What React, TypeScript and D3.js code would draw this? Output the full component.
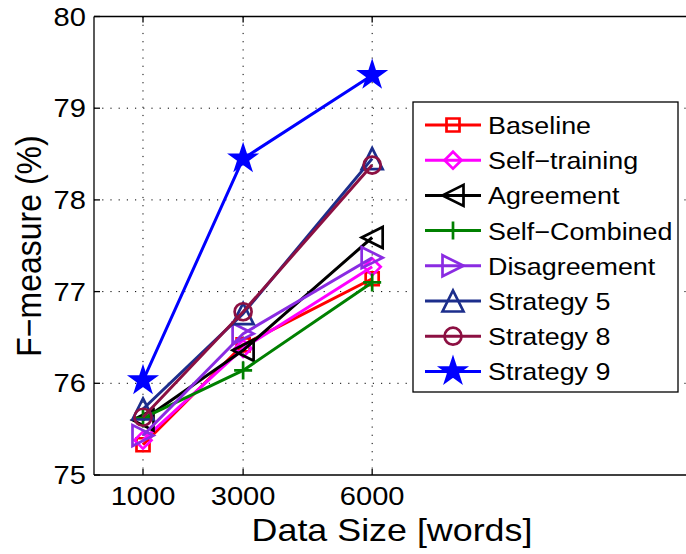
import React from "react";
import * as d3 from "d3";

// Data size in words (x categories)
const sizes = [1000, 3000, 6000];
const yTicks = [75, 76, 77, 78, 79, 80];

// F-measure (%) per method
const baseline = [75.33, 76.42, 77.14];
const selfTraining = [75.38, 76.38, 77.27];
const agreement = [75.6, 76.36, 77.59];
const selfCombined = [75.62, 76.14, 77.1];
const disagreement = [75.43, 76.54, 77.37];
const strategy5 = [75.72, 76.76, 78.45];
const strategy8 = [75.63, 76.78, 78.38];
const strategy9 = [76.03, 78.45, 79.36];

type Marker = "square" | "diamond" | "triLeft" | "plus" | "triRight" | "triUp" | "circle" | "star";

const series: { name: string; values: number[]; color: string; marker: Marker }[] = [
  { name: "Baseline", values: baseline, color: "#ff0000", marker: "square" },
  { name: "Self\u2212training", values: selfTraining, color: "#ff00ff", marker: "diamond" },
  { name: "Agreement", values: agreement, color: "#000000", marker: "triLeft" },
  { name: "Self\u2212Combined", values: selfCombined, color: "#008000", marker: "plus" },
  { name: "Disagreement", values: disagreement, color: "#8a2be2", marker: "triRight" },
  { name: "Strategy 5", values: strategy5, color: "#1c2e8c", marker: "triUp" },
  { name: "Strategy 8", values: strategy8, color: "#8c1042", marker: "circle" },
  { name: "Strategy 9", values: strategy9, color: "#0000ff", marker: "star" },
];

const W = 686;
const H = 554;
const plot = { left: 94, top: 16.5, right: 700, bottom: 475 };
const FONT = "'Liberation Sans', Arial, sans-serif";
const SX = 1.12; // horizontal text stretch

const x = d3.scalePow().exponent(0.82).domain([216, 14840]).range([plot.left, plot.right]);
const y = d3.scaleLinear().domain([75, 80]).range([plot.bottom, plot.top]);

function markerPath(m: Marker): string {
  switch (m) {
    case "square": {
      const s = 6.5;
      return `M${-s},${-s}H${s}V${s}H${-s}Z`;
    }
    case "diamond": {
      const s = 8.5;
      return `M0,${-s}L${s},0L0,${s}L${-s},0Z`;
    }
    case "triLeft": {
      const s = 10.5;
      return `M${-s},0L${s},${-s}L${s},${s}Z`;
    }
    case "triRight": {
      const s = 10.5;
      return `M${s},0L${-s},${-s}L${-s},${s}Z`;
    }
    case "triUp": {
      const s = 10.5;
      return `M0,${-s}L${s},${s}L${-s},${s}Z`;
    }
    case "plus": {
      const s = 9;
      return `M${-s},0H${s}M0,${-s}V${s}`;
    }
    case "circle": {
      const r = 8.5;
      return `M${r},0A${r},${r} 0 1,1 ${-r},0A${r},${r} 0 1,1 ${r},0Z`;
    }
    case "star": {
      const R = 12.5;
      const r = R * 0.382;
      const pts: string[] = [];
      for (let i = 0; i < 10; i++) {
        const a = -Math.PI / 2 + (i * Math.PI) / 5;
        const rr = i % 2 === 0 ? R : r;
        pts.push(`${(rr * Math.cos(a)).toFixed(2)},${(rr * Math.sin(a)).toFixed(2)}`);
      }
      return `M${pts.join("L")}Z`;
    }
  }
}

function MarkerShape({ m, color, cx, cy }: { m: Marker; color: string; cx: number; cy: number }) {
  return (
    <path
      d={markerPath(m)}
      transform={`translate(${cx},${cy})`}
      fill={m === "star" ? color : "none"}
      stroke={color}
      strokeWidth={2.7}
      strokeLinejoin="miter"
    />
  );
}

function SText(props: { x: number; y: number; size: number; anchor?: string; rotate?: number; children: React.ReactNode }) {
  const { x: tx, y: ty, size, anchor = "start", rotate = 0, children } = props;
  const t = rotate
    ? `translate(${tx},${ty}) rotate(${rotate}) scale(1,${SX})`
    : `translate(${tx},${ty}) scale(${SX},1)`;
  return (
    <text transform={t} fontFamily={FONT} fontSize={size} textAnchor={anchor as any} fill="#000">
      {children}
    </text>
  );
}

export default function App() {
  const line = d3
    .line<number>()
    .x((_, i) => x(sizes[i]))
    .y((v) => y(v));

  const legend = { x: 413, y: 102, w: 265, h: 290, rowH: 35.2 };

  return (
    <svg
      width={W}
      height={H}
      style={{ position: "absolute", left: 0, top: 0, background: "#fff" }}
    >
      <defs>
        <clipPath id="plotClip">
          <rect x={plot.left} y={plot.top - 20} width={W - plot.left} height={plot.bottom - plot.top + 40} />
        </clipPath>
      </defs>
      <rect x={0} y={0} width={W} height={H} fill="#fff" />

      {/* grid */}
      <g stroke="#000" strokeWidth={1} strokeDasharray="1.2,7">
        {sizes.map((s) => (
          <line key={s} x1={x(s)} x2={x(s)} y1={plot.top} y2={plot.bottom} />
        ))}
        {yTicks.slice(1, -1).map((t) => (
          <line key={t} x1={plot.left} x2={W} y1={y(t)} y2={y(t)} />
        ))}
      </g>

      {/* axes box */}
      <g stroke="#000" strokeWidth={1.3} fill="none">
        <line x1={plot.left} x2={plot.left} y1={plot.top} y2={plot.bottom} />
        <line x1={plot.left} x2={W} y1={plot.top} y2={plot.top} />
        <line x1={plot.left} x2={W} y1={plot.bottom} y2={plot.bottom} />
        {sizes.map((s) => (
          <g key={s}>
            <line x1={x(s)} x2={x(s)} y1={plot.bottom} y2={plot.bottom - 6} />
            <line x1={x(s)} x2={x(s)} y1={plot.top} y2={plot.top + 6} />
          </g>
        ))}
        {yTicks.map((t) => (
          <line key={t} x1={plot.left} x2={plot.left + 6} y1={y(t)} y2={y(t)} />
        ))}
      </g>

      {/* tick labels */}
      {yTicks.map((t) => (
        <SText key={t} x={plot.left - 8} y={y(t) + 9} size={26} anchor="end">
          {t}
        </SText>
      ))}
      {sizes.map((s) => (
        <SText key={s} x={x(s)} y={plot.bottom + 30} size={26} anchor="middle">
          {s}
        </SText>
      ))}

      {/* axis titles */}
      <SText x={392} y={541} size={32} anchor="middle">
        Data Size [words]
      </SText>
      <SText x={41} y={246} size={32} anchor="middle" rotate={-90}>
        F{"\u2212"}measure (%)
      </SText>

      {/* series */}
      <g clipPath="url(#plotClip)">
        {series.map((s) => (
          <g key={s.name}>
            <path d={line(s.values) || ""} fill="none" stroke={s.color} strokeWidth={3} strokeLinejoin="round" />
            {s.values.map((v, i) => (
              <MarkerShape key={i} m={s.marker} color={s.color} cx={x(sizes[i])} cy={y(v)} />
            ))}
          </g>
        ))}
      </g>

      {/* legend */}
      <rect x={legend.x} y={legend.y} width={legend.w} height={legend.h} fill="#fff" stroke="#000" strokeWidth={1.3} />
      {series.map((s, i) => {
        const cy = legend.y + 23 + i * legend.rowH;
        return (
          <g key={s.name}>
            <line x1={legend.x + 12} x2={legend.x + 68} y1={cy} y2={cy} stroke={s.color} strokeWidth={3} />
            <MarkerShape m={s.marker} color={s.color} cx={legend.x + 40} cy={cy} />
            <SText x={legend.x + 75} y={cy + 9} size={24}>
              {s.name}
            </SText>
          </g>
        );
      })}
    </svg>
  );
}
